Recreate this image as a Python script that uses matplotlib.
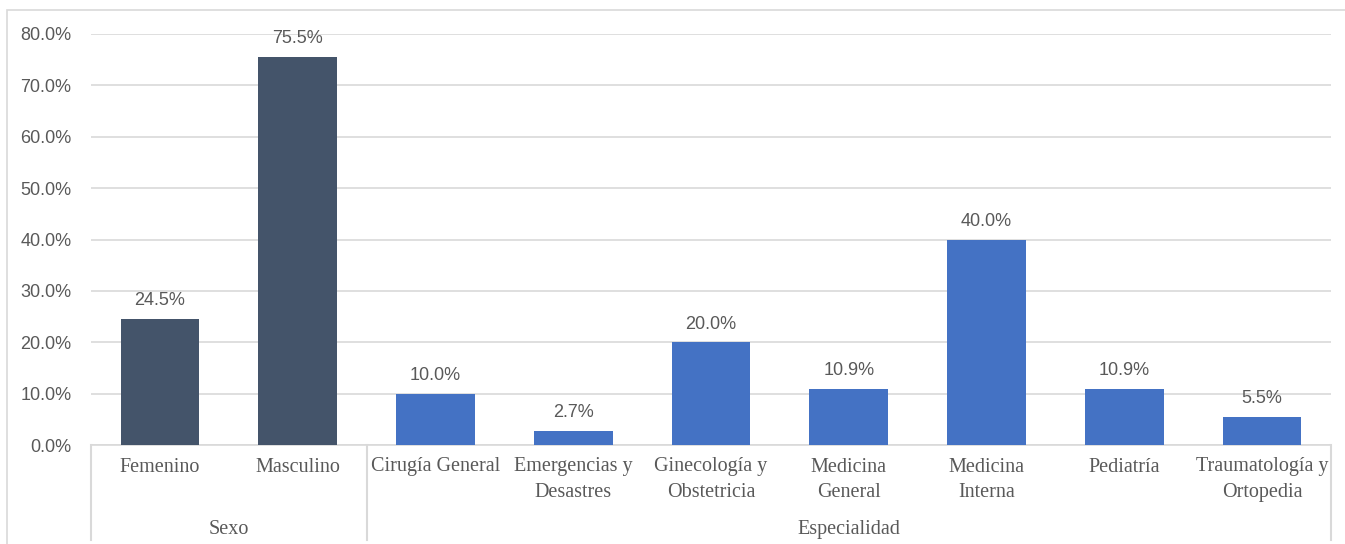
import numpy as np
import matplotlib.pyplot as plt
from matplotlib.patches import Rectangle
import matplotlib.transforms as mtransforms

categorias = ['Femenino', 'Masculino', 'Cirugía General', 'Emergencias y\nDesastres',
              'Ginecología y\nObstetricia', 'Medicina\nGeneral', 'Medicina\nInterna',
              'Pediatría', 'Traumatología y\nOrtopedia']
valores = [24.5, 75.5, 10.0, 2.7, 20.0, 10.9, 40.0, 10.9, 5.5]
grupos = ['Sexo', 'Especialidad']
tam_grupos = [2, 7]

oscuro = '#44546A'
azul = '#4472C4'
gris = '#595959'
linea = '#D9D9D9'

colores = [oscuro] * tam_grupos[0] + [azul] * tam_grupos[1]

fig = plt.figure(figsize=(13.45, 5.44), dpi=100)
ax = fig.add_axes([91/1345, 1-445/544, (1331-91)/1345, (445-34)/544])

x = np.arange(len(categorias))
barras = ax.bar(x, valores, width=0.571, color=colores, zorder=3)

for xi, v in zip(x, valores):
    ax.annotate(f'{v:.1f}%', (xi, v), xytext=(0, 7), textcoords='offset points',
                ha='center', va='bottom', fontsize=13, color=gris,
                family='Liberation Sans', zorder=4)

ax.set_xlim(-0.5, len(categorias) - 0.5)
ax.set_ylim(0, 80)
ax.set_yticks(np.arange(0, 81, 10))
ax.set_yticklabels([f'{t:.1f}%' for t in np.arange(0, 81, 10)],
                   fontsize=13, color=gris, family='Liberation Sans')
ax.yaxis.grid(True, color=linea, linewidth=1.2, zorder=0)
ax.tick_params(axis='y', length=0, pad=14)

ax.set_xticks(x)
ax.set_xticklabels(categorias, fontsize=14.5, color=gris, family='Liberation Serif',
                   linespacing=1.45)
ax.tick_params(axis='x', length=0, pad=9)

for s in ['top', 'right', 'left']:
    ax.spines[s].set_visible(False)
ax.spines['bottom'].set_color(linea)
ax.spines['bottom'].set_linewidth(1.2)

trans = mtransforms.blended_transform_factory(ax.transData, ax.transAxes)
inicio = -0.5
for g, n in zip(grupos, tam_grupos):
    ax.plot([inicio, inicio], [0, -0.232], color=linea, lw=1.5, transform=trans, clip_on=False)
    ax.text(inicio + n / 2, -0.205, g, transform=trans, ha='center', va='center',
            fontsize=14.5, color=gris, family='Liberation Serif')
    inicio += n
ax.plot([inicio, inicio], [0, -0.232], color=linea, lw=1.5, transform=trans, clip_on=False)

fig.patches.append(Rectangle((7/1345, -0.1), 1.2, 1 - 10/544 + 0.1, transform=fig.transFigure,
                             fill=False, edgecolor=linea, linewidth=1.2))

fig.savefig('out.png', dpi=100)
